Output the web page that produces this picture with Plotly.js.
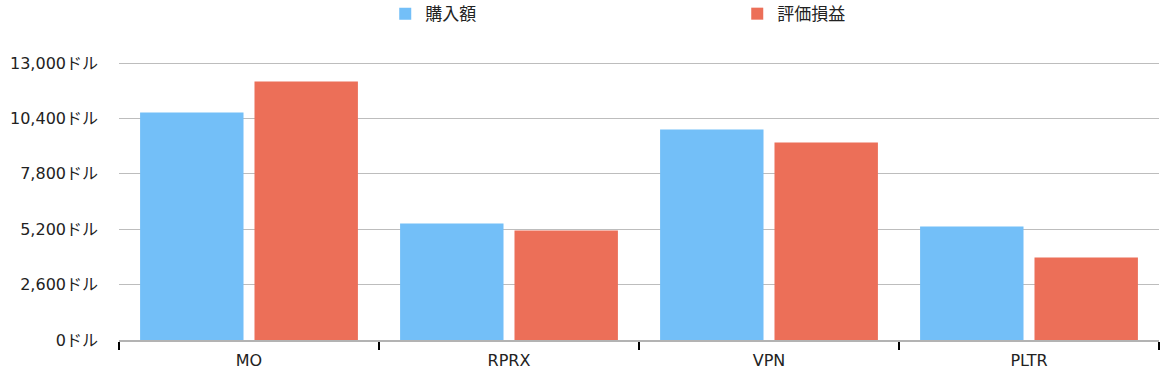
<!DOCTYPE html>
<html>
<head>
<meta charset="utf-8">
<script src="https://cdn.plot.ly/plotly-3.0.1.min.js"></script>
<style>html,body{margin:0;padding:0;background:#fff;}#chart{width:1160px;height:370px;}</style>
</head>
<body>
<div id="chart"></div>
<script>
const categories = ["MO", "RPRX", "VPN", "PLTR"];
const purchaseAmount = [10680, 5470, 9880, 5330];
const valuationGain = [12130, 5140, 9270, 3870];
const seriesNames = ["購入額", "評価損益"];
const yTickVals = [0, 2600, 5200, 7800, 10400, 13000];
const yTickText = yTickVals.map(v => v.toLocaleString("en-US") + "ドル");

const font = "'DejaVu Sans', 'Noto Sans CJK JP', sans-serif";

const traces = [
  {type: "bar", name: seriesNames[0], x: categories, y: purchaseAmount,
   marker: {color: "#73bff8"}, hoverinfo: "none"},
  {type: "bar", name: seriesNames[1], x: categories, y: valuationGain,
   marker: {color: "#ec6f58"}, hoverinfo: "none"}
];

const layout = {
  width: 1160, height: 370,
  margin: {l: 119, r: 1, t: 62, b: 30, autoexpand: false},
  paper_bgcolor: "#fff", plot_bgcolor: "#fff",
  font: {family: font, size: 16, color: "#222"},
  barmode: "group", bargap: 0.12, bargroupgap: 0.096,
  showlegend: true,
  legend: {orientation: "h", x: 0.256, xanchor: "left", y: 1.237, yanchor: "top",
           yref: "paper", entrywidth: 307, entrywidthmode: "pixels",
           font: {family: "'Noto Sans CJK JP', sans-serif", size: 17, color: "#222"}, traceorder: "normal"},
  xaxis: {type: "category", showgrid: false, showline: true, linecolor: "#b3b3b3", linewidth: 1.5,
          ticks: "outside", tickson: "boundaries", ticklen: 8, tickcolor: "#000", tickwidth: 1.5,
          ticklabelstandoff: 5,
          tickfont: {family: font, size: 16, color: "#222"}, fixedrange: true},
  yaxis: {range: [0, 13050], tickvals: yTickVals, ticktext: yTickText,
          showgrid: true, gridcolor: "#bdbdbd", gridwidth: 1, zeroline: false, showline: false,
          ticks: "", ticklabelstandoff: 20,
          tickfont: {family: font, size: 16, color: "#222"}, fixedrange: true}
};

Plotly.newPlot("chart", traces, layout, {displayModeBar: false, staticPlot: true});
</script>
</body>
</html>
